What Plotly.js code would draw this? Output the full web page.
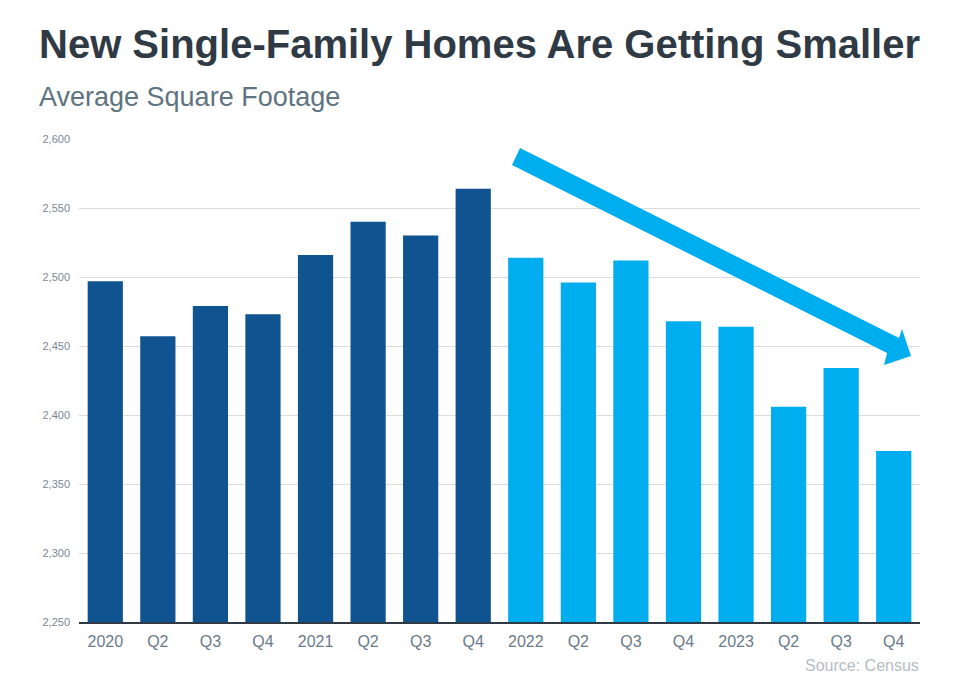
<!DOCTYPE html>
<html><head><meta charset="utf-8">
<script src="https://cdn.plot.ly/plotly-3.0.1.min.js"></script>
<style>html,body{margin:0;padding:0;background:#fff}#chart{width:960px;height:675px}</style>
</head><body><div id="chart"></div>
<script>
const categories = ["2020","Q2 2020","Q3 2020","Q4 2020","2021","Q2 2021","Q3 2021","Q4 2021","2022","Q2 2022","Q3 2022","Q4 2022","2023","Q2 2023","Q3 2023","Q4 2023"];
const tickLabels = ["2020","Q2","Q3","Q4","2021","Q2","Q3","Q4","2022","Q2","Q3","Q4","2023","Q2","Q3","Q4"];
const values2020_2021 = [2497,2457,2479,2473,2516,2540,2530,2564];
const values2022_2023 = [2514,2496,2512,2468,2464,2406,2434,2374];
const yTicks = [2250,2300,2350,2400,2450,2500,2550,2600];

const W=960,H=675,L=79,R=40,T=139,B=53;
const pw=W-L-R, ph=H-T-B;
const px=x=>(x-L)/pw, py=y=>(H-B-y)/ph;

const traces=[
 {type:'bar',x:categories.slice(0,8),y:values2020_2021,marker:{color:'#0F5391'},hoverinfo:'x+y'},
 {type:'bar',x:categories.slice(8),y:values2022_2023,marker:{color:'#00AEEF'},hoverinfo:'x+y'}
];
const arrowPts=[[520,148],[899,338],[902,329],[911,356],[884,365],[887,353],[512,165]];
const path='M '+arrowPts.map(p=>px(p[0]).toFixed(4)+','+py(p[1]).toFixed(4)).join(' L ')+' Z';
const layout={
 width:W,height:H,margin:{l:L,r:R,t:T,b:B},
 paper_bgcolor:'#fff',plot_bgcolor:'#fff',
 showlegend:false,barmode:'group',bargap:0.33,
 font:{family:'Liberation Sans, Arial, sans-serif'},
 xaxis:{type:'category',tickvals:categories,ticktext:tickLabels,tickfont:{size:16,color:'#6B7A8A'},
  showline:true,linecolor:'#2F3A44',linewidth:2,ticks:'',ticklabelstandoff:4,showgrid:false,fixedrange:true},
 yaxis:{range:[2250,2600],tickvals:yTicks,ticktext:yTicks.map(v=>v.toLocaleString('en-US')),
  tickfont:{size:11,color:'#7A8794'},gridcolor:'#DCDCDC',gridwidth:1,zeroline:false,ticks:'',ticklen:0,
  ticklabelstandoff:8,showline:false,fixedrange:true},
 shapes:[{type:'path',xref:'paper',yref:'paper',path:path,fillcolor:'#00AEEF',line:{width:0},layer:'above'}],
 annotations:[
  {text:'<b>New Single-Family Homes Are Getting Smaller</b>',xref:'paper',yref:'paper',x:px(37),y:py(44),xanchor:'left',yanchor:'middle',showarrow:false,font:{size:40,color:'#2F3A44'}},
  {text:'Average Square Footage',xref:'paper',yref:'paper',x:px(37),y:py(97),xanchor:'left',yanchor:'middle',showarrow:false,font:{size:27,color:'#5F7380'}},
  {text:'Source: Census',xref:'paper',yref:'paper',x:px(921),y:py(665),xanchor:'right',yanchor:'middle',showarrow:false,font:{size:16,color:'#B4BCC4'}}
 ]
};
Plotly.newPlot('chart',traces,layout,{displayModeBar:false,staticPlot:true});
</script></body></html>
